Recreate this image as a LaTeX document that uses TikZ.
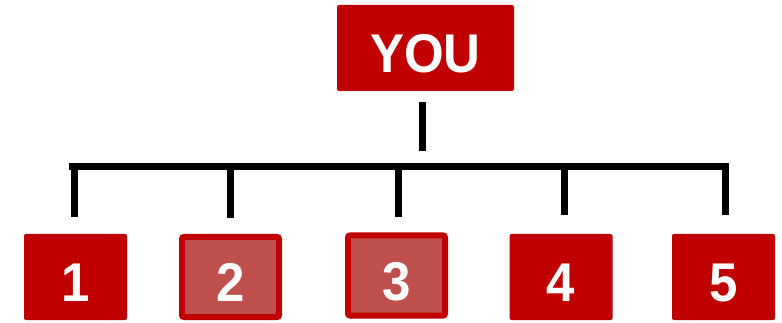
\documentclass[tikz,border=0pt]{standalone}
\usepackage{fontspec}
\usepackage{graphicx}
\setmainfont{Liberation Sans}
\definecolor{boxred}{HTML}{C00000}
\definecolor{lightred}{HTML}{C0504D}
\newcommand{\bigtxt}[1]{\scalebox{1}[1.07]{#1}}
\begin{document}
\begin{tikzpicture}[x=1pt,y=-1pt,
  basebox/.style={rounded corners=2pt,inner sep=0pt,text=white,text height=49pt,text depth=0pt,font=\bfseries\fontsize{51}{51}\selectfont},
  solidbox/.style={basebox,fill=boxred,draw=none,minimum width=103pt,minimum height=86pt},
  lightbox/.style={basebox,fill=lightred,draw=boxred,line width=6pt,minimum width=97pt,minimum height=80pt},
  conn/.style={line width=7pt,black}]
\useasboundingbox (0,0) rectangle (782,323);
\node[solidbox,minimum width=177pt,minimum height=86pt] (you) at (425.5,48) {\bigtxt{YOU}};
\node[solidbox] (b1) at (75.5,277) {\bigtxt{1}};
\node[lightbox] (b2) at (230.5,277) {\bigtxt{2}};
\node[lightbox] (b3) at (396.5,275.5) {\bigtxt{3}};
\node[solidbox] (b4) at (561,277) {\bigtxt{4}};
\node[solidbox] (b5) at (723.5,277) {\bigtxt{5}};
\coordinate (t0) at (422,102);
\coordinate (t1) at (422,151);
\coordinate (hl) at (69,166.5);
\coordinate (hr) at (729,166.5);
\coordinate (d1) at (74.5,217);
\coordinate (d2) at (230,218);
\coordinate (d3) at (398.5,217);
\coordinate (d4) at (564,215);
\coordinate (d5) at (725.5,215);
\draw[conn] (t0) -- (t1);
\draw[conn] (hl) -- (hr);
\foreach \d in {d1,d2,d3,d4,d5} {
  \draw[conn] (\d |- hl) -- (\d);
}
\end{tikzpicture}
\end{document}
